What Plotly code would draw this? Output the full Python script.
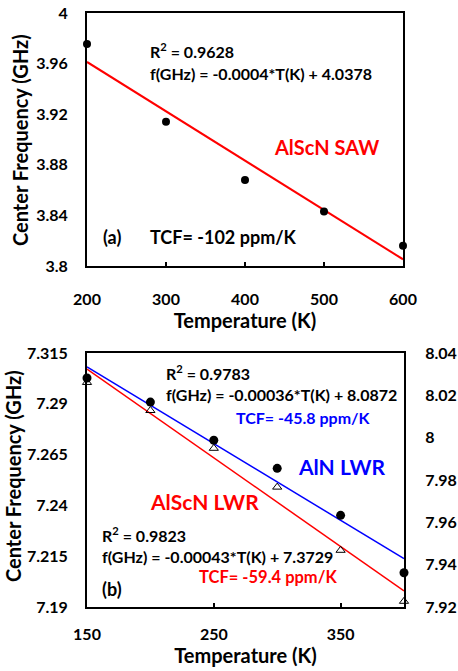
import numpy as np
import plotly.graph_objects as go

W, H = 458, 671

# ---- data: panel (a) AlScN SAW ----
saw_T = [200, 300, 400, 500, 600]
saw_f = [3.9755, 3.914, 3.868, 3.843, 3.816]

# ---- data: panel (b) LWR ----
lwr_T = [150, 200, 250, 300, 350, 400]
aln_f = [8.0282, 8.0168, 7.9988, 7.9855, 7.9633, 7.9362]      # right axis, circles
alscn_f = [7.3005, 7.2867, 7.2681, 7.2490, 7.2179, 7.1928]    # left axis, triangles

# tick labels
a_xticks = [200, 300, 400, 500, 600]
a_yticks = [3.8, 3.84, 3.88, 3.92, 3.96, 4.0]
a_yticktext = ["3.8", "3.84", "3.88", "3.92", "3.96", "4"]
b_xticks = [150, 250, 350]
b_yticks = [7.19, 7.215, 7.24, 7.265, 7.29, 7.315]
b_yticktext = ["7.19", "7.215", "7.24", "7.265", "7.29", "7.315"]
b_y2ticks = [7.92, 7.94, 7.96, 7.98, 8.0, 8.02, 8.04]
b_y2ticktext = ["7.92", "7.94", "7.96", "7.98", "8", "8.02", "8.04"]

a_xrange = [200, 600]
a_yrange = [3.8, 4.0]
b_xrange = [150, 400]
b_yrange = [7.19, 7.315]
b_y2range = [7.92, 8.04]


def fit(x, y):
    k, b = np.polyfit(x, y, 1)
    xs = np.array([min(x), max(x)], dtype=float)
    return xs, k * xs + b


def px(x):
    return x / W


def py(y):
    return 1 - y / H


FONT = "Lato"
fig = go.Figure()

# panel (a)
tx, ty = fit(saw_T, saw_f)
fig.add_trace(go.Scatter(x=tx, y=ty, mode="lines", line=dict(color="#FF0000", width=2),
                         xaxis="x", yaxis="y", showlegend=False))
fig.add_trace(go.Scatter(x=saw_T, y=saw_f, mode="markers",
                         marker=dict(color="black", size=8), xaxis="x", yaxis="y",
                         showlegend=False, cliponaxis=False))

# panel (b)
bx, by = fit(lwr_T, aln_f)
fig.add_trace(go.Scatter(x=bx, y=by, mode="lines", line=dict(color="#0000FF", width=1.5),
                         xaxis="x2", yaxis="y3", showlegend=False))
rx, ry = fit(lwr_T, alscn_f)
fig.add_trace(go.Scatter(x=rx, y=ry, mode="lines", line=dict(color="#FF0000", width=1.5),
                         xaxis="x2", yaxis="y2", showlegend=False))
fig.add_trace(go.Scatter(x=lwr_T, y=aln_f, mode="markers",
                         marker=dict(color="black", size=9), xaxis="x2", yaxis="y3",
                         showlegend=False, cliponaxis=False))
fig.add_trace(go.Scatter(x=lwr_T, y=alscn_f, mode="markers",
                         marker=dict(symbol="triangle-up-open", color="black", size=8,
                                     line=dict(width=1, color="black")),
                         xaxis="x2", yaxis="y2", showlegend=False, cliponaxis=False))

tickfont = dict(family=FONT, size=16, color="black", weight="bold")
titlefont = dict(family=FONT, size=20, color="black", weight="bold")
xcommon = dict(showline=True, linecolor="black", linewidth=2, ticks="inside", ticklen=4,
               tickwidth=1.5, tickcolor="black", showgrid=False, zeroline=False,
               tickfont=tickfont, automargin=False)
# label-carrying y axes: invisible outside ticks push the labels away from the frame
ylab = dict(showline=True, linecolor="black", linewidth=2, ticks="outside",
            tickcolor="rgba(0,0,0,0)", showgrid=False, zeroline=False,
            tickfont=tickfont, automargin=False)
# tick-only y axes: short inside tick marks, no labels
ytick = dict(showline=False, ticks="inside", ticklen=4, tickwidth=1.5, tickcolor="black",
             showticklabels=False, showgrid=False, zeroline=False, automargin=False)

top_dom = [py(266), py(13)]
bot_dom = [py(607), py(353)]

fig.update_layout(
    width=W, height=H, margin=dict(l=0, r=0, t=0, b=0),
    paper_bgcolor="white", plot_bgcolor="white",
    xaxis=dict(domain=[px(87), px(403)], anchor="y", range=a_xrange, tickvals=a_xticks,
               mirror=True, ticklabelstandoff=18,
               title=dict(text="Temperature (K)", font=titlefont, standoff=2), **xcommon),
    yaxis=dict(domain=top_dom, anchor="x", range=a_yrange, tickvals=a_yticks,
               ticktext=a_yticktext, mirror=True, ticklen=14, **ylab),
    yaxis4=dict(domain=top_dom, anchor="x", overlaying="y", range=a_yrange,
                tickvals=a_yticks, side="left", **ytick),
    xaxis2=dict(domain=[px(87), px(404)], anchor="y2", range=b_xrange, tickvals=b_xticks,
                mirror=True, ticklabelstandoff=12,
                title=dict(text="Temperature (K)", font=titlefont, standoff=6), **xcommon),
    yaxis2=dict(domain=bot_dom, anchor="x2", range=b_yrange, tickvals=b_yticks,
                ticktext=b_yticktext, ticklen=14, **ylab),
    yaxis5=dict(domain=bot_dom, anchor="x2", overlaying="y2", range=b_yrange,
                tickvals=b_yticks, side="left", **ytick),
    yaxis3=dict(domain=bot_dom, anchor="x2", overlaying="y2", side="right",
                range=b_y2range, tickvals=b_y2ticks, ticktext=b_y2ticktext,
                ticklen=16, **ylab),
    yaxis6=dict(domain=bot_dom, anchor="x2", overlaying="y2", side="right",
                range=b_y2range, tickvals=b_y2ticks, **ytick),
)

ann = []


def add(text, x, y, size=16, color="black", bold=True, xanchor="left", angle=0):
    ann.append(dict(text=text, x=px(x), y=py(y), xref="paper", yref="paper",
                    xanchor=xanchor, yanchor="middle", showarrow=False, textangle=angle,
                    font=dict(family=FONT, size=size, color=color,
                              weight="bold" if bold else "normal")))


# y-axis titles
add("Center Frequency (GHz)", 20, 140, size=20, xanchor="center", angle=-90)
add("Center Frequency (GHz)", 13, 476, size=20, xanchor="center", angle=-90)

# panel (a) annotations
add("R<sup>2</sup> = 0.9628", 148, 51)
add("f(GHz) = -0.0004*T(K) + 4.0378", 148, 73)
add("AlScN SAW", 272, 147, size=20, color="#FF0000")
add("(a)", 101, 237, size=18)
add("TCF= -102 ppm/K", 148, 237, size=18)

# panel (b) annotations
add("R<sup>2</sup> = 0.9783", 164, 372)
add("f(GHz) = -0.00036*T(K) + 8.0872", 164, 394)
add("TCF= -45.8 ppm/K", 234, 417, color="#0000FF")
add("AlN LWR", 296, 466, size=21, color="#0000FF")
add("AlScN LWR", 148, 502, size=21, color="#FF0000")
add("R<sup>2</sup> = 0.9823", 100, 534)
add("f(GHz) = -0.00043*T(K) + 7.3729", 100, 556)
add("TCF= -59.4 ppm/K", 197, 577, size=16.5, color="#FF0000")
add("(b)", 100, 589, size=18)

fig.update_layout(annotations=ann)
fig.write_html("out.html")
